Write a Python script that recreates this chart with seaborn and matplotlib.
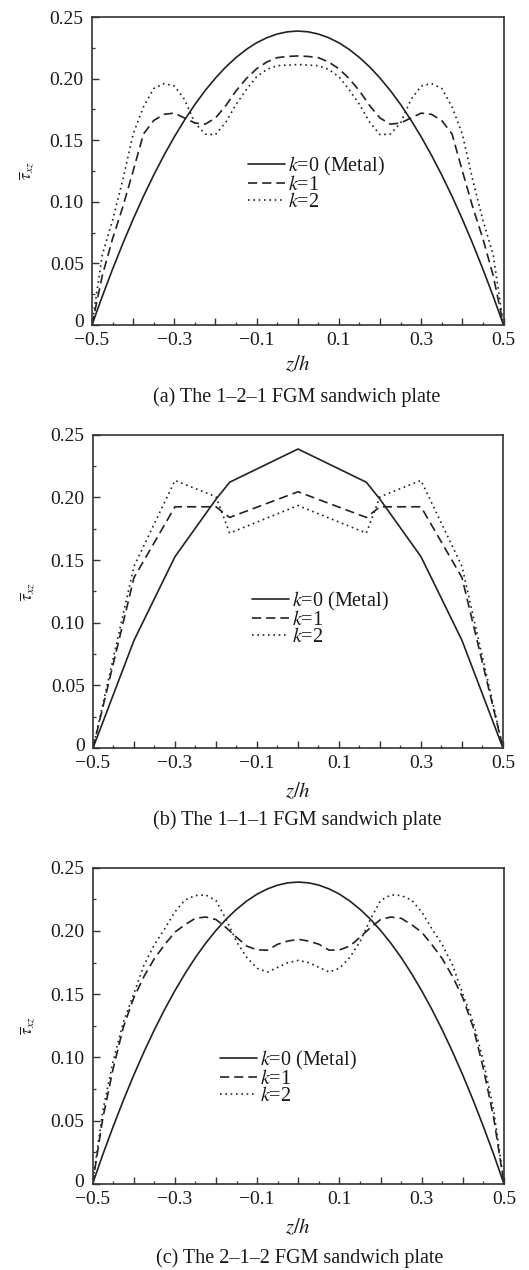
import numpy as np
import pandas as pd
import matplotlib
matplotlib.use('Agg')
import matplotlib.pyplot as plt
import matplotlib.transforms as mtransforms
from matplotlib.ticker import FixedLocator, FixedFormatter
import seaborn as sns

sns.set_theme(style='white')
plt.rcParams['font.family'] = ['Liberation Serif', 'DejaVu Serif']
plt.rcParams['mathtext.fontset'] = 'stix'

# ---------------- data ----------------
z_fine = [-0.5, -0.475, -0.45, -0.425, -0.4, -0.375, -0.35, -0.325, -0.3, -0.275,
          -0.25, -0.225, -0.2, -0.175, -0.15, -0.125, -0.1, -0.075, -0.05, -0.025,
          0.0, 0.025, 0.05, 0.075, 0.1, 0.125, 0.15, 0.175, 0.2, 0.225,
          0.25, 0.275, 0.3, 0.325, 0.35, 0.375, 0.4, 0.425, 0.45, 0.475, 0.5]

metal_fine = [0, 0.0233, 0.0453, 0.0662, 0.0859, 0.1044, 0.1217, 0.1378, 0.1527, 0.1664,
              0.1790, 0.1903, 0.2004, 0.2094, 0.2171, 0.2237, 0.2291, 0.2332, 0.2362, 0.2380,
              0.2386, 0.2380, 0.2362, 0.2332, 0.2291, 0.2237, 0.2171, 0.2094, 0.2004, 0.1903,
              0.1790, 0.1664, 0.1527, 0.1378, 0.1217, 0.1044, 0.0859, 0.0662, 0.0453, 0.0233, 0]

# (a) 1-2-1
a_k1 = [0, 0.040, 0.070, 0.096, 0.125, 0.155, 0.166, 0.171, 0.172, 0.168,
        0.164, 0.163, 0.168, 0.178, 0.190, 0.200, 0.208, 0.2135, 0.217, 0.218,
        0.2184, 0.218, 0.217, 0.2135, 0.208, 0.200, 0.190, 0.178, 0.168, 0.163,
        0.164, 0.168, 0.172, 0.171, 0.166, 0.155, 0.125, 0.096, 0.070, 0.040, 0]
a_k2 = [0, 0.057, 0.085, 0.118, 0.155, 0.177, 0.192, 0.196, 0.194, 0.183,
        0.164, 0.155, 0.1545, 0.1645, 0.179, 0.191, 0.2015, 0.2075, 0.2105, 0.211,
        0.2114, 0.211, 0.2105, 0.2075, 0.2015, 0.191, 0.179, 0.1645, 0.1545, 0.155,
        0.164, 0.183, 0.194, 0.196, 0.192, 0.177, 0.155, 0.118, 0.085, 0.057, 0]

# (b) 1-1-1
z_b = [-0.5, -0.4, -0.3, -0.2, -0.1667, 0.0, 0.1667, 0.2, 0.3, 0.4, 0.5]
b_k0 = [0, 0.0859, 0.1527, 0.1985, 0.2121, 0.2386, 0.2121, 0.1985, 0.1527, 0.0859, 0]
b_k1 = [0, 0.136, 0.1925, 0.1925, 0.184, 0.2045, 0.184, 0.1925, 0.1925, 0.136, 0]
b_k2 = [0, 0.145, 0.2135, 0.2005, 0.1715, 0.1935, 0.1715, 0.2005, 0.2135, 0.145, 0]

# (c) 2-1-2
c_k1 = [0, 0.052, 0.091, 0.124, 0.147, 0.164, 0.178, 0.189, 0.199, 0.205,
        0.210, 0.211, 0.209, 0.2025, 0.195, 0.188, 0.185, 0.1848, 0.1895, 0.192,
        0.1934, 0.192, 0.1895, 0.1848, 0.185, 0.188, 0.195, 0.2025, 0.209, 0.211,
        0.210, 0.205, 0.199, 0.189, 0.178, 0.164, 0.147, 0.124, 0.091, 0.052, 0]
c_k2 = [0, 0.058, 0.097, 0.128, 0.150, 0.173, 0.189, 0.2015, 0.215, 0.2245,
        0.228, 0.2285, 0.224, 0.209, 0.1915, 0.179, 0.1705, 0.1675, 0.1712, 0.175,
        0.1767, 0.175, 0.1712, 0.1675, 0.1705, 0.179, 0.1915, 0.209, 0.224, 0.2285,
        0.228, 0.2245, 0.215, 0.2015, 0.189, 0.173, 0.150, 0.128, 0.097, 0.058, 0]

labels = ['$k$=0 (Metal)', '$k$=1', '$k$=2']
captions = ['(a) The 1\u20132\u20131 FGM sandwich plate',
            '(b) The 1\u20131\u20131 FGM sandwich plate',
            '(c) The 2\u20131\u20132 FGM sandwich plate']

x_major = [-0.5, -0.4, -0.3, -0.2, -0.1, 0.0, 0.1, 0.2, 0.3, 0.4, 0.5]
x_major_lbl = ['\u22120.5', '', '\u22120.3', '', '\u22120.1', '', '0.1', '', '0.3', '', '0.5']
x_minor = [-0.45, -0.35, -0.25, -0.15, -0.05, 0.05, 0.15, 0.25, 0.35, 0.45]
y_major = [0, 0.05, 0.10, 0.15, 0.20, 0.25]
y_major_lbl = ['0', '0.05', '0.10', '0.15', '0.20', '0.25']
y_minor = [0.025, 0.075, 0.125, 0.175, 0.225]

panels = [
    dict(z=[z_fine, z_fine, z_fine], y=[metal_fine, a_k1, a_k2],
         pos=[0.1739, 0.7441, 0.7779, 0.2425], leg=(0.379, 0.552), xl=-0.130),
    dict(z=[z_b, z_b, z_b], y=[b_k0, b_k1, b_k2],
         pos=[0.1758, 0.4110, 0.7750, 0.2467], leg=(0.388, 0.505), xl=-0.140),
    dict(z=[z_fine, z_fine, z_fine], y=[metal_fine, c_k1, c_k2],
         pos=[0.1749, 0.0677, 0.7779, 0.2491], leg=(0.310, 0.427), xl=-0.139),
]
cap_pos = [(0.5614, 1 - 397 / 1270), (0.5614, 1 - 820 / 1270), (0.567, 1 - 1258 / 1270)]

styles = ['-', (0, (5.5, 3.0)), (0, (1.0, 2.2))]
line_color = '#222222'
FS = 14

fig = plt.figure(figsize=(5.29, 12.70), dpi=100)
fig.patch.set_facecolor('white')

for i, p in enumerate(panels):
    ax = fig.add_axes(p['pos'])
    ax.set_facecolor('white')
    for j in range(3):
        df = pd.DataFrame({'z': p['z'][j], 'tau': p['y'][j]})
        sns.lineplot(data=df, x='z', y='tau', ax=ax, color=line_color,
                     linestyle=styles[j], linewidth=1.2, label=labels[j],
                     sort=False, estimator=None)
    ax.set_xlim(-0.5, 0.5)
    ax.set_ylim(0, 0.25)
    for s in ax.spines.values():
        s.set_color('#333333')
        s.set_linewidth(1.2)
        s.set_visible(True)
    ax.xaxis.set_major_locator(FixedLocator(x_major))
    ax.xaxis.set_major_formatter(FixedFormatter(x_major_lbl))
    ax.xaxis.set_minor_locator(FixedLocator(x_minor))
    ax.yaxis.set_major_locator(FixedLocator(y_major))
    ax.yaxis.set_major_formatter(FixedFormatter(y_major_lbl))
    ax.yaxis.set_minor_locator(FixedLocator(y_minor))
    ax.tick_params(which='major', direction='in', length=5, width=1.0,
                   color='#333333', labelsize=FS, bottom=True, left=True,
                   top=False, right=False, pad=5, labelcolor='#1a1a1a')
    ax.tick_params(which='major', axis='y', pad=6)
    ax.tick_params(which='minor', direction='in', length=2.5, width=0.9,
                   color='#333333', bottom=True, left=True, top=False, right=False)
    ax.set_xlabel('$z/h$', fontsize=FS + 1, va='center', color='#1a1a1a')
    ax.xaxis.set_label_coords(0.5, p['xl'])
    ax.set_ylabel(r'$\overline{\tau}_{xz}$', fontsize=12, va='center',
                  rotation=90, color='#1a1a1a')
    ax.yaxis.set_label_coords(-0.158, 0.5)
    ax.grid(False)
    # nudge the "0" y tick label up a little so it clears the x tick labels
    fig.canvas.draw()
    ylbls = ax.get_yticklabels()
    if ylbls:
        off = mtransforms.ScaledTranslation(0, 4 / 100, fig.dpi_scale_trans)
        ylbls[0].set_transform(ylbls[0].get_transform() + off)
    leg = ax.legend(loc='upper left', bbox_to_anchor=p['leg'], frameon=False,
                    fontsize=FS + 0.5, handlelength=1.85, handletextpad=0.15,
                    labelspacing=-0.1, borderpad=0.0, borderaxespad=0.0)
    for t in leg.get_texts():
        t.set_color('#1a1a1a')
    fig.text(cap_pos[i][0], cap_pos[i][1], captions[i], ha='center', va='center',
             fontsize=FS + 0.5, color='#1a1a1a')

fig.savefig('out.png', dpi=100, facecolor='white')
